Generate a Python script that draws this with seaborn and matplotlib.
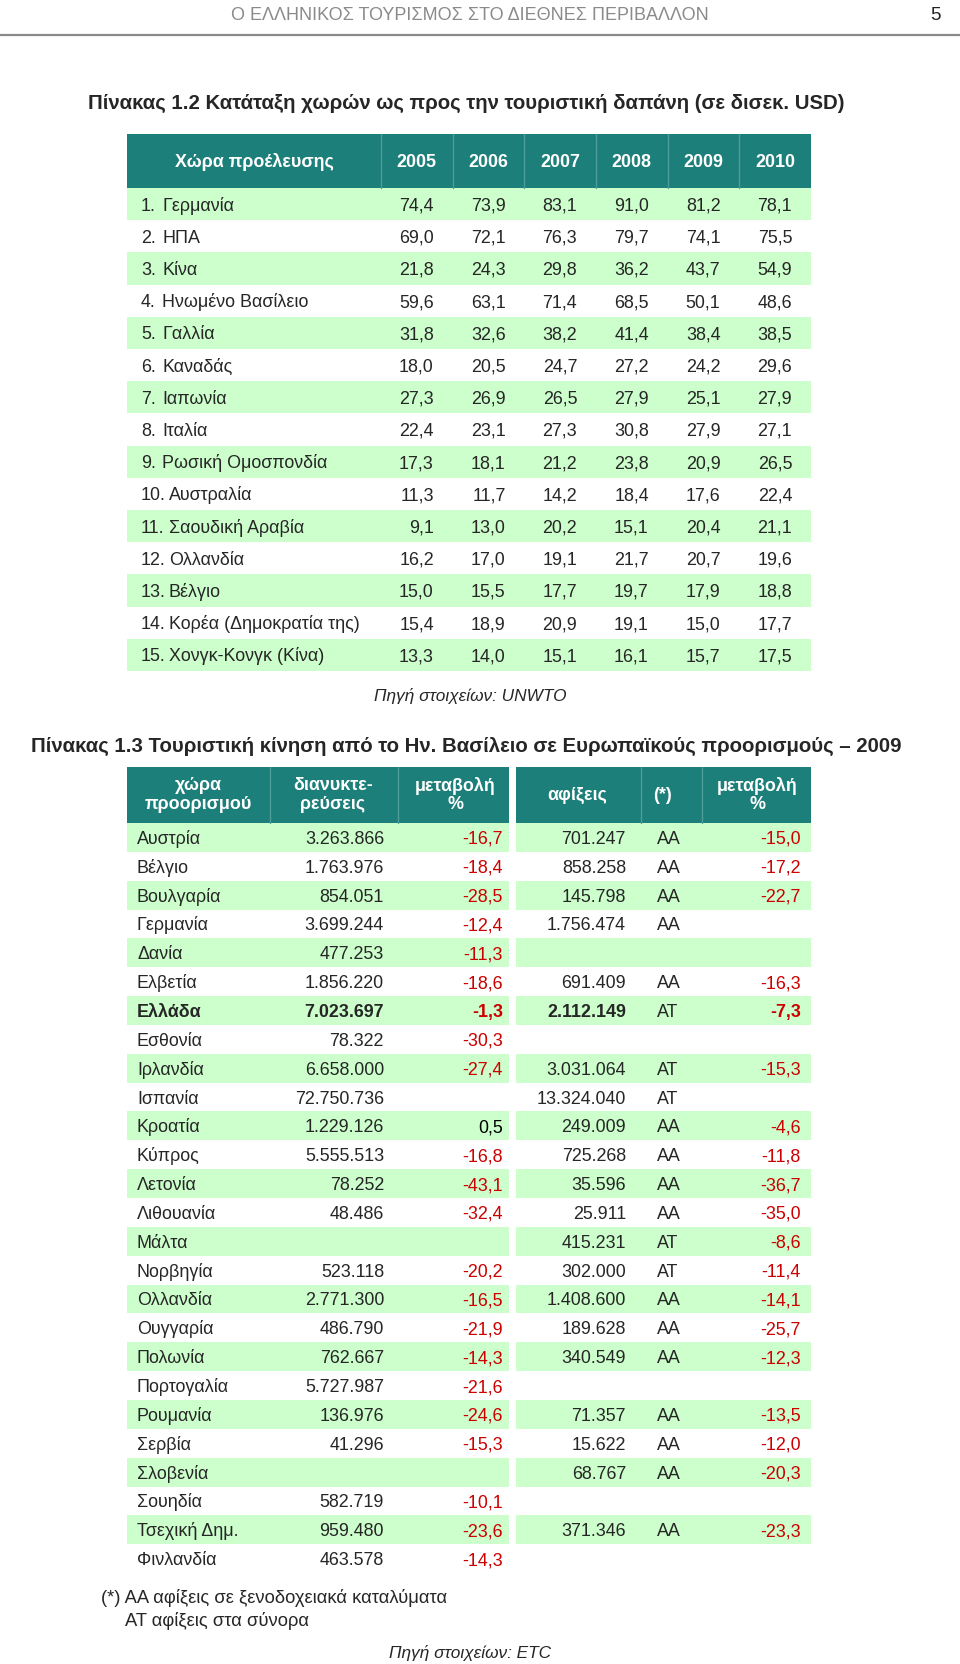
import numpy as np
import matplotlib
matplotlib.use("Agg")
import matplotlib.pyplot as plt
from matplotlib.colors import ListedColormap
from matplotlib.patches import Rectangle
import seaborn as sns

# Table 1.2 data: tourist spending per origin country (bn USD)
years = ["2005", "2006", "2007", "2008", "2009", "2010"]
origin_countries = ["Γερμανία", "ΗΠΑ", "Κίνα", "Ηνωμένο Βασίλειο", "Γαλλία", "Καναδάς",
                    "Ιαπωνία", "Ιταλία", "Ρωσική Ομοσπονδία", "Αυστραλία",
                    "Σαουδική Αραβία", "Ολλανδία", "Βέλγιο", "Κορέα (Δημοκρατία της)",
                    "Χονγκ-Κονγκ (Κίνα)"]
spending = [
    [74.4, 73.9, 83.1, 91.0, 81.2, 78.1],
    [69.0, 72.1, 76.3, 79.7, 74.1, 75.5],
    [21.8, 24.3, 29.8, 36.2, 43.7, 54.9],
    [59.6, 63.1, 71.4, 68.5, 50.1, 48.6],
    [31.8, 32.6, 38.2, 41.4, 38.4, 38.5],
    [18.0, 20.5, 24.7, 27.2, 24.2, 29.6],
    [27.3, 26.9, 26.5, 27.9, 25.1, 27.9],
    [22.4, 23.1, 27.3, 30.8, 27.9, 27.1],
    [17.3, 18.1, 21.2, 23.8, 20.9, 26.5],
    [11.3, 11.7, 14.2, 18.4, 17.6, 22.4],
    [9.1, 13.0, 20.2, 15.1, 20.4, 21.1],
    [16.2, 17.0, 19.1, 21.7, 20.7, 19.6],
    [15.0, 15.5, 17.7, 19.7, 17.9, 18.8],
    [15.4, 18.9, 20.9, 19.1, 15.0, 17.7],
    [13.3, 14.0, 15.1, 16.1, 15.7, 17.5],
]

# Table 1.3 data: UK tourist flows to European destinations, 2009
destinations = ["Αυστρία", "Βέλγιο", "Βουλγαρία", "Γερμανία", "Δανία", "Ελβετία", "Ελλάδα",
                "Εσθονία", "Ιρλανδία", "Ισπανία", "Κροατία", "Κύπρος", "Λετονία",
                "Λιθουανία", "Μάλτα", "Νορβηγία", "Ολλανδία", "Ουγγαρία", "Πολωνία",
                "Πορτογαλία", "Ρουμανία", "Σερβία", "Σλοβενία", "Σουηδία",
                "Τσεχική Δημ.", "Φινλανδία"]
overnights = ["3.263.866", "1.763.976", "854.051", "3.699.244", "477.253", "1.856.220",
              "7.023.697", "78.322", "6.658.000", "72.750.736", "1.229.126", "5.555.513",
              "78.252", "48.486", "", "523.118", "2.771.300", "486.790", "762.667",
              "5.727.987", "136.976", "41.296", "", "582.719", "959.480", "463.578"]
overnights_change = ["-16,7", "-18,4", "-28,5", "-12,4", "-11,3", "-18,6", "-1,3", "-30,3",
                     "-27,4", "", "0,5", "-16,8", "-43,1", "-32,4", "", "-20,2", "-16,5",
                     "-21,9", "-14,3", "-21,6", "-24,6", "-15,3", "", "-10,1", "-23,6",
                     "-14,3"]
arrivals = ["701.247", "858.258", "145.798", "1.756.474", "", "691.409", "2.112.149", "",
            "3.031.064", "13.324.040", "249.009", "725.268", "35.596", "25.911", "415.231",
            "302.000", "1.408.600", "189.628", "340.549", "", "71.357", "15.622", "68.767",
            "", "371.346", ""]
arrival_type = ["ΑΑ", "ΑΑ", "ΑΑ", "ΑΑ", "", "ΑΑ", "ΑΤ", "", "ΑΤ", "ΑΤ", "ΑΑ", "ΑΑ", "ΑΑ",
                "ΑΑ", "ΑΤ", "ΑΤ", "ΑΑ", "ΑΑ", "ΑΑ", "", "ΑΑ", "ΑΑ", "ΑΑ", "", "ΑΑ", ""]
arrivals_change = ["-15,0", "-17,2", "-22,7", "", "", "-16,3", "-7,3", "", "-15,3", "",
                   "-4,6", "-11,8", "-36,7", "-35,0", "-8,6", "-11,4", "-14,1", "-25,7",
                   "-12,3", "", "-13,5", "-12,0", "-20,3", "", "-23,3", ""]
highlight = "Ελλάδα"

TEAL = "#1d7f7a"
SEP = "#4f9d99"
GREEN = "#ccffcc"
RED = "#cc0000"
W, H = 960, 1664
FS = 12.9
BL = 0.36 * FS * 100 / 72   # shift from visual centre to baseline (px)

sns.set_theme(style="white")
plt.rcParams["font.family"] = ["Liberation Sans", "DejaVu Sans"]

fig = plt.figure(figsize=(W / 100, H / 100), dpi=100)
ax = fig.add_axes([0, 0, 1, 1])
ax.set_xlim(0, W)
ax.set_ylim(H, 0)
ax.axis("off")
ax.set_zorder(10)
ax.patch.set_alpha(0)


def cell(x, y, s, ha="left", fs=FS, **kw):
    ax.text(x, y + 0.36 * fs * 100 / 72, s, ha=ha, va="baseline", fontsize=fs, **kw)


def stripes(x0, x1, y0, nrows, pitch):
    # zebra band behind the table body, drawn as a seaborn heatmap
    hax = fig.add_axes([x0 / W, 1 - (y0 + nrows * pitch) / H, (x1 - x0) / W, nrows * pitch / H])
    band = np.array([[1 - i % 2] for i in range(nrows)])
    sns.heatmap(band, ax=hax, cmap=ListedColormap(["white", GREEN]), vmin=0, vmax=1,
                cbar=False, xticklabels=False, yticklabels=False)
    hax.axis("off")


# page header
cell(470, 14, "Ο ΕΛΛΗΝΙΚΟΣ ΤΟΥΡΙΣΜΟΣ ΣΤΟ ΔΙΕΘΝΕΣ ΠΕΡΙΒΑΛΛΟΝ", ha="center", fs=13,
     color="#8a8a8a")
cell(935, 13, "5", ha="center", fs=13.5, color="#222222")
ax.plot([0, W], [35, 35], color="#8a8a8a", lw=1.6)

# ---- table 1.2
cell(88, 102, "Πίνακας 1.2 Κατάταξη χωρών ως προς την τουριστική δαπάνη (σε δισεκ. USD)",
     fs=14.7, fontweight="bold")
t1_x0, t1_x1, t1_top, t1_hb, t1_pitch = 127, 811, 134, 188, 32.2
col_edges = np.linspace(381, t1_x1, len(years) + 1)
ax.add_patch(Rectangle((t1_x0, t1_top), t1_x1 - t1_x0, t1_hb - t1_top, color=TEAL, lw=0))
for xe in col_edges[:-1]:
    ax.plot([xe, xe], [t1_top, t1_hb], color=SEP, lw=1)
hy = (t1_top + t1_hb) / 2
cell((t1_x0 + col_edges[0]) / 2, hy, "Χώρα προέλευσης", ha="center", fontweight="bold",
     color="white")
centers = (col_edges[:-1] + col_edges[1:]) / 2
for cx, yr in zip(centers, years):
    cell(cx, hy, yr, ha="center", fontweight="bold", color="white")

stripes(t1_x0, t1_x1, t1_hb, len(origin_countries), t1_pitch)
for i, (name, vals) in enumerate(zip(origin_countries, spending)):
    y = t1_hb + (i + 0.5) * t1_pitch
    cell(141, y, f"{i + 1}.")
    cell(162 if i < 9 else 169, y, name)
    for cx, v in zip(centers, vals):
        cell(cx + 17, y, f"{v:.1f}".replace(".", ","), ha="right")

cell(470, 695, "Πηγή στοιχείων: UNWTO", ha="center", fs=12.4, style="italic")

# ---- table 1.3
cell(31, 745, "Πίνακας 1.3 Τουριστική κίνηση από το Ην. Βασίλειο σε Ευρωπαϊκούς "
     "προορισμούς – 2009", fs=14.7, fontweight="bold")
t2_top, t2_hb, t2_pitch = 767, 823, 28.85
left_blk, right_blk = (127, 509), (516, 811)
for bx0, bx1 in (left_blk, right_blk):
    ax.add_patch(Rectangle((bx0, t2_top), bx1 - bx0, t2_hb - t2_top, color=TEAL, lw=0))
for xe in (270, 398, 641, 702):
    ax.plot([xe, xe], [t2_top, t2_hb], color=SEP, lw=1)
hy = (t2_top + t2_hb) / 2
head2 = [(198, "χώρα\nπροορισμού"), (333, "διανυκτε-\nρεύσεις"), (455, "μεταβολή\n%"),
         (577, "αφίξεις"), (663, "(*)"), (757, "μεταβολή\n%")]
for cx, lab in head2:
    ax.text(cx, hy, lab, ha="center", va="center", fontsize=FS, fontweight="bold",
            color="white", linespacing=1.15)

stripes(*left_blk, t2_hb, len(destinations), t2_pitch)
stripes(*right_blk, t2_hb, len(destinations), t2_pitch)
for i, name in enumerate(destinations):
    y = t2_hb + (i + 0.5) * t2_pitch
    fw = "bold" if name == highlight else "normal"
    cell(137, y, name, fontweight=fw)
    cell(384, y, overnights[i], ha="right", fontweight=fw)
    ch = overnights_change[i]
    cell(503, y, ch, ha="right", fontweight=fw, color=RED if ch.startswith("-") else "black")
    cell(626, y, arrivals[i], ha="right", fontweight=fw)
    cell(657, y, arrival_type[i])
    ch = arrivals_change[i]
    cell(801, y, ch, ha="right", fontweight=fw, color=RED if ch.startswith("-") else "black")

cell(101, 1596, "(*) ΑΑ αφίξεις σε ξενοδοχειακά καταλύματα", fs=13.2)
cell(125, 1619, "ΑΤ αφίξεις στα σύνορα", fs=13.2)
cell(470, 1652, "Πηγή στοιχείων: ETC", ha="center", fs=12.4, style="italic")

fig.savefig("out.png", dpi=100, facecolor="white")
